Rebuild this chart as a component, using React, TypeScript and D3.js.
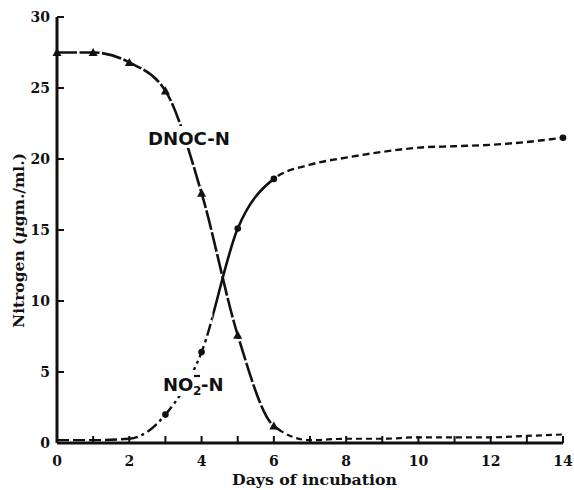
import React from 'react'
import * as d3 from 'd3'

const days = [0, 1, 2, 3, 4, 5, 6, 7, 8, 9, 10, 11, 12, 13, 14]
const dnocN = [27.5, 27.5, 26.8, 24.8, 17.6, 7.6, 1.2, 0.2, 0.3, 0.3, 0.4, 0.4, 0.4, 0.5, 0.6]
const no2N = [0.2, 0.2, 0.3, 2.0, 6.4, 15.1, 18.6, 19.6, 20.1, 20.5, 20.8, 20.9, 21.0, 21.2, 21.5]
const dnocMarkerDays = [0, 1, 2, 3, 4, 5, 6]
const no2MarkerDays = [3, 4, 5, 6, 14]
const xTicks = [0, 2, 4, 6, 8, 10, 12, 14]
const yTicks = [0, 5, 10, 15, 20, 25, 30]

const W = 574
const H = 490

const App = () => {
  const x = d3.scaleLinear().domain([0, 14]).range([57, 563])
  const y = d3.scaleLinear().domain([0, 30]).range([443, 17])

  const line = d3.line<number>()
    .x((d, i) => x(days[i]))
    .y(d => y(d))
    .curve(d3.curveMonotoneX)

  const dnocPath = line(dnocN) || ''
  const no2Path = line(no2N) || ''

  const serif = '"DejaVu Serif", "Liberation Serif", serif'
  const sans = '"DejaVu Sans", "Noto Sans", sans-serif'

  // clip regions so one curve can change dash style along x
  const x2 = x(2), x43 = x(4.3), x6 = x(6), x62 = x(6.2)

  const tri = (cx: number, cy: number) => {
    const s = 4.5
    return `M${cx},${cy - s}L${cx + s},${cy + s * 0.8}L${cx - s},${cy + s * 0.8}Z`
  }

  return (
    <svg width={W} height={H} style={{ position: 'absolute', left: 0, top: 0, background: '#fff' }}>
      <defs>
        <clipPath id="c-a"><rect x={0} y={0} width={x2} height={H} /></clipPath>
        <clipPath id="c-b"><rect x={x2} y={0} width={x43 - x2} height={H} /></clipPath>
        <clipPath id="c-c"><rect x={x43} y={0} width={x6 - x43} height={H} /></clipPath>
        <clipPath id="c-d"><rect x={x6} y={0} width={W - x6} height={H} /></clipPath>
        <clipPath id="d-a"><rect x={0} y={0} width={x62} height={H} /></clipPath>
        <clipPath id="d-b"><rect x={x62} y={0} width={W - x62} height={H} /></clipPath>
      </defs>

      {/* axes */}
      <line x1={x(0)} x2={x(14)} y1={y(0)} y2={y(0)} stroke="#111" strokeWidth={3} />
      <line x1={x(0)} x2={x(0)} y1={y(0)} y2={y(30)} stroke="#111" strokeWidth={3} />
      {d3.range(1, 15).map(d => (
        <line key={'xt' + d} x1={x(d)} x2={x(d)} y1={y(0)} y2={y(0) - 7} stroke="#111" strokeWidth={2} />
      ))}
      {yTicks.slice(1).map(t => (
        <line key={'yt' + t} x1={x(0)} x2={x(0) + 7} y1={y(t)} y2={y(t)} stroke="#111" strokeWidth={2} />
      ))}
      {xTicks.map(t => (
        <text key={'xl' + t} x={x(t)} y={y(0) + 23} textAnchor="middle" fontFamily={serif}
          fontWeight="bold" fontSize={14} fill="#111">{t}</text>
      ))}
      {yTicks.map(t => (
        <text key={'yl' + t} x={x(0) - 7} y={y(t) + 5} textAnchor="end" fontFamily={serif}
          fontWeight="bold" fontSize={14} fill="#111">{t}</text>
      ))}
      <text x={232} y={485} fontFamily={serif} fontWeight="bold" fontSize={14}
        textLength={165} lengthAdjust="spacingAndGlyphs" fill="#111">
        Days of incubation
      </text>
      <text transform="translate(24,328) rotate(-90)" fontFamily={serif}
        fontWeight="bold" fontSize={14} textLength={175} lengthAdjust="spacingAndGlyphs" fill="#111">
        Nitrogen (<tspan fontStyle="italic">μ</tspan>gm./ml.)
      </text>

      {/* DNOC-N curve */}
      <path d={dnocPath} fill="none" stroke="#111" strokeWidth={2.6} strokeDasharray="20 2.5" clipPath="url(#d-a)" />
      <path d={dnocPath} fill="none" stroke="#111" strokeWidth={2.2} strokeDasharray="6 4" clipPath="url(#d-b)" />

      {/* NO2-N curve */}
      <path d={no2Path} fill="none" stroke="#111" strokeWidth={2.4} strokeDasharray="12 4" clipPath="url(#c-a)" />
      <path d={no2Path} fill="none" stroke="#111" strokeWidth={2.4} strokeDasharray="12 4 3 4" clipPath="url(#c-b)" />
      <path d={no2Path} fill="none" stroke="#111" strokeWidth={2.6} clipPath="url(#c-c)" />
      <path d={no2Path} fill="none" stroke="#111" strokeWidth={2.4} strokeDasharray="7 4" clipPath="url(#c-d)" />

      {dnocMarkerDays.map(d => (
        <path key={'tr' + d} d={tri(x(d), y(dnocN[days.indexOf(d)]))} fill="#111" />
      ))}
      {no2MarkerDays.map(d => (
        <circle key={'ci' + d} cx={x(d)} cy={y(no2N[days.indexOf(d)])} r={3.3} fill="#111" />
      ))}

      {/* curve labels */}
      <rect x={146} y={126} width={86} height={22} fill="#fff" />
      <text x={148} y={145} fontFamily={sans} fontWeight="bold" fontSize={18} textLength={82}
        lengthAdjust="spacingAndGlyphs" fill="#111">DNOC-N</text>
      <rect x={161} y={370} width={64} height={26} fill="#fff" />
      <text x={163} y={391} fontFamily={sans} fontWeight="bold" fontSize={18} fill="#111">NO</text>
      <text x={193} y={395} fontFamily={sans} fontWeight="bold" fontSize={12} fill="#111">2</text>
      <line x1={194} x2={200} y1={376} y2={376} stroke="#111" strokeWidth={2.2} />
      <text x={201} y={391} fontFamily={sans} fontWeight="bold" fontSize={18} fill="#111">-N</text>
    </svg>
  )
}

export default App
